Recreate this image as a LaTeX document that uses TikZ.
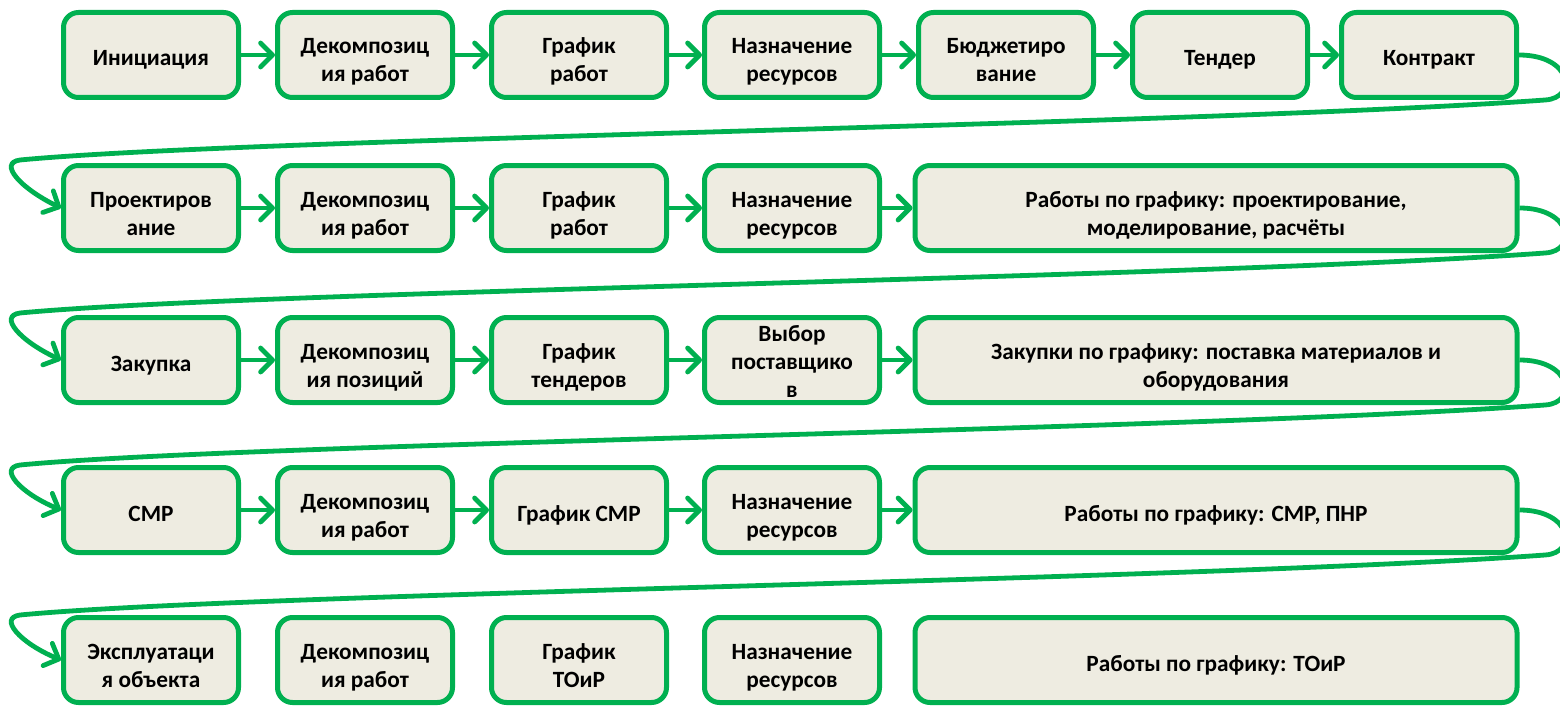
\documentclass[tikz,border=0pt]{standalone}
\usepackage{fontspec}
\setmainfont{Carlito}
\usetikzlibrary{arrows.meta}
\definecolor{grn}{HTML}{00B050}
\definecolor{bg}{HTML}{EEECE1}
\begin{document}
\begin{tikzpicture}[x=1pt,y=-1pt,
  box/.style={draw=grn, fill=bg, line width=5pt, rounded corners=15pt,
    minimum width=175pt, minimum height=85pt, align=center, inner sep=0pt,
    font=\fontsize{23.3}{28}\selectfont\bfseries,
    text height=22pt, text depth=0pt},
  two/.style={text height=54pt},
  three/.style={text height=75pt},
  wide/.style={box, minimum width=602pt},
  link/.style={draw=grn, line width=4.8pt, -{Straight Barb[length=12pt,width=24pt,round]}},
  conn/.style={link}]
\useasboundingbox (0,0) rectangle (1560,706);
% row 1
\node[box] (a1) at (151,55) {Инициация};
\node[box,two] (a2) at (365,55) {Декомпозиц\\ия работ};
\node[box,two] (a3) at (579,55) {График\\работ};
\node[box,two] (a4) at (792,55) {Назначение\\ресурсов};
\node[box,two] (a5) at (1006,55) {Бюджетиро\\вание};
\node[box] (a6) at (1220,55) {Тендер};
\node[box] (a7) at (1429,55) {Контракт};
% row 2
\node[box,two] (b1) at (151,208) {Проектиров\\ание};
\node[box,two] (b2) at (365,208) {Декомпозиц\\ия работ};
\node[box,two] (b3) at (579,208) {График\\работ};
\node[box,two] (b4) at (792,208) {Назначение\\ресурсов};
\node[wide,two] (b5) at (1216,208) {Работы по графику: проектирование,\\моделирование, расчёты};
% row 3
\node[box] (c1) at (151,360) {Закупка};
\node[box,two] (c2) at (365,360) {Декомпозиц\\ия позиций};
\node[box,two] (c3) at (579,360) {График\\тендеров};
\node[box,three] (c4) at (792,360) {Выбор\\поставщико\\в};
\node[wide,two] (c5) at (1216,360) {Закупки по графику: поставка материалов и\\оборудования};
% row 4
\node[box] (d1) at (151,510) {СМР};
\node[box,two] (d2) at (365,510) {Декомпозиц\\ия работ};
\node[box] (d3) at (579,510) {График СМР};
\node[box,two] (d4) at (792,510) {Назначение\\ресурсов};
\node[wide] (d5) at (1216,510) {Работы по графику: СМР, ПНР};
% row 5
\node[box,two] (e1) at (151,660) {Эксплуатаци\\я объекта};
\node[box,two] (e2) at (365,660) {Декомпозиц\\ия работ};
\node[box,two] (e3) at (579,660) {График\\ТОиР};
\node[box,two] (e4) at (792,660) {Назначение\\ресурсов};
\node[wide] (e5) at (1216,660) {Работы по графику: ТОиР};
% arrows within rows
\foreach \p/\q in {a1/a2,a2/a3,a3/a4,a4/a5,a5/a6,a6/a7,
                   b1/b2,b2/b3,b3/b4,b4/b5,
                   c1/c2,c2/c3,c3/c4,c4/c5,
                   d1/d2,d2/d3,d3/d4,d4/d5}
  \draw[link] (\p) -- (\q);
% row-to-row connectors
\draw[conn] (a7.east) .. controls (1572,55) and (1578,98) .. (1545,100)
  .. controls (1200,125) and (250,138) .. (20,160)
  .. controls (-2,163) and (20,188) .. (b1.west);
\draw[conn] (b5.east) .. controls (1572,208) and (1578,251) .. (1545,253)
  .. controls (1200,278) and (250,291) .. (20,313)
  .. controls (-2,316) and (20,341) .. (c1.west);
\draw[conn] (c5.east) .. controls (1572,360) and (1578,403) .. (1545,405)
  .. controls (1200,430) and (250,443) .. (20,465)
  .. controls (-2,468) and (20,493) .. (d1.west);
\draw[conn] (d5.east) .. controls (1572,510) and (1578,553) .. (1545,555)
  .. controls (1200,580) and (250,593) .. (20,615)
  .. controls (-2,618) and (20,643) .. (e1.west);
\end{tikzpicture}
\end{document}
